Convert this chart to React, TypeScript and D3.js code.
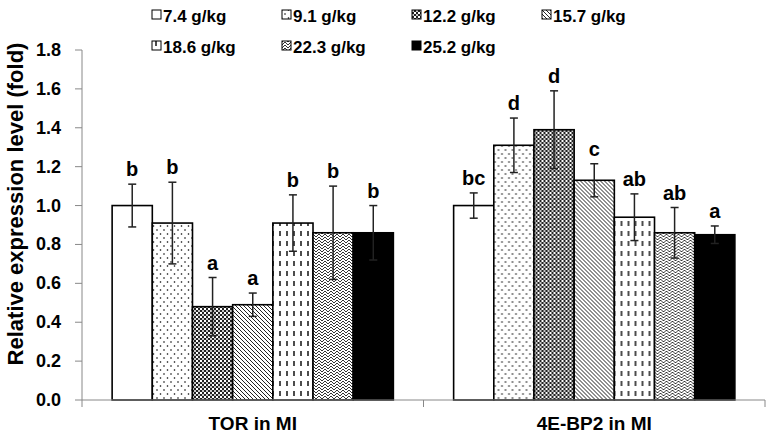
import React from 'react';
import * as d3 from 'd3';

const groups = ['TOR in MI', '4E-BP2 in MI'];
const series = ['7.4 g/kg', '9.1 g/kg', '12.2 g/kg', '15.7 g/kg', '18.6 g/kg', '22.3 g/kg', '25.2 g/kg'];
const torMeans = [1.0, 0.91, 0.48, 0.49, 0.91, 0.86, 0.86];
const torErrors = [0.11, 0.21, 0.15, 0.06, 0.145, 0.24, 0.14];
const torLetters = ['b', 'b', 'a', 'a', 'b', 'b', 'b'];
const bp2Means = [1.0, 1.31, 1.39, 1.13, 0.94, 0.86, 0.85];
const bp2Errors = [0.065, 0.14, 0.2, 0.085, 0.12, 0.13, 0.045];
const bp2Letters = ['bc', 'd', 'd', 'c', 'ab', 'ab', 'a'];
const yTicks = [0, 0.2, 0.4, 0.6, 0.8, 1.0, 1.2, 1.4, 1.6, 1.8];

const fills = ['#fff', 'url(#p-dots)', 'url(#p-check)', 'url(#p-diag)', 'url(#p-dash)', 'url(#p-zig)', '#000'];
const font = '"Liberation Sans", Arial, sans-serif';

const width = 773;
const height = 439;
const margin = { top: 50, right: 8, bottom: 39, left: 82 };

export default function App() {
  const means = [torMeans, bp2Means];
  const errors = [torErrors, bp2Errors];
  const letters = [torLetters, bp2Letters];

  const x0 = d3.scaleBand().domain(groups).range([margin.left, width - margin.right]).paddingInner(0).paddingOuter(0);
  const x1 = d3.scaleBand().domain(series).range([0, x0.bandwidth()]).paddingOuter(0.75).paddingInner(0);
  const y = d3.scaleLinear().domain([0, 1.8]).range([height - margin.bottom, margin.top]);
  const y0 = y(0);

  return (
    <svg width={width} height={height} style={{ position: 'absolute', left: 0, top: 0, background: '#fff' }} fontFamily={font}>
      <defs>
        <pattern id="p-dots" width="7" height="8" patternUnits="userSpaceOnUse">
          <rect width="7" height="8" fill="#fff" />
          <circle cx="1.5" cy="2" r="0.8" fill="#000" />
          <circle cx="5" cy="6" r="0.8" fill="#000" />
        </pattern>
        <pattern id="p-check" width="4" height="4" patternUnits="userSpaceOnUse">
          <rect width="4" height="4" fill="#fff" />
          <rect x="0" y="0" width="2" height="2" fill="#222" />
          <rect x="2" y="2" width="2" height="2" fill="#222" />
          <circle cx="1" cy="3" r="0.7" fill="#666" />
        </pattern>
        <pattern id="p-diag" width="4" height="4" patternUnits="userSpaceOnUse">
          <rect width="4" height="4" fill="#fff" />
          <path d="M-1,-1 L5,5 M-1,3 L1,5 M3,-1 L5,1" stroke="#222" strokeWidth="1" />
        </pattern>
        <pattern id="p-dash" width="7" height="10" patternUnits="userSpaceOnUse">
          <rect width="7" height="10" fill="#fff" />
          <line x1="2" y1="1" x2="2" y2="6" stroke="#000" strokeWidth="1.4" />
        </pattern>
        <pattern id="p-zig" width="6" height="6" patternUnits="userSpaceOnUse">
          <rect width="6" height="6" fill="#fff" />
          <path d="M0,3 L3,0 L6,3 M0,6 L3,3 L6,6" stroke="#333" strokeWidth="1" fill="none" />
        </pattern>
      </defs>

      {/* legend */}
      {series.map((s, i) => {
        const col = i < 4 ? i : i - 4;
        const row = i < 4 ? 0 : 1;
        const lx = 152 + col * 130;
        const ly = 22 + row * 31;
        return (
          <g key={s}>
            <rect x={lx} y={ly - 12} width={9} height={9} fill={fills[i]} stroke="#000" strokeWidth={1} />
            <text x={lx + 11} y={ly} fontSize={17} fontWeight="bold">{s}</text>
          </g>
        );
      })}

      {/* y axis */}
      <line x1={margin.left} x2={margin.left} y1={y(1.8)} y2={y0} stroke="#888" strokeWidth={1} />
      {yTicks.map(t => (
        <g key={t}>
          <line x1={margin.left - 7} x2={margin.left} y1={y(t)} y2={y(t)} stroke="#888" />
          <text x={margin.left - 21} y={y(t) + 6} textAnchor="end" fontSize={18} fontWeight="bold">{t.toFixed(1)}</text>
        </g>
      ))}
      <text transform={`translate(23,204) rotate(-90)`} textAnchor="middle" fontSize={22} fontWeight="bold">
        Relative expression level (fold)
      </text>

      {/* bars */}
      {groups.map((g, gi) => (
        <g key={g} transform={`translate(${x0(g)},0)`}>
          {series.map((s, si) => {
            const v = means[gi][si];
            const e = errors[gi][si];
            const bx = x1(s)!;
            const cx = bx + x1.bandwidth() / 2;
            return (
              <g key={s}>
                <rect x={bx} y={y(v)} width={x1.bandwidth()} height={y0 - y(v)} fill={fills[si]} stroke="#000" strokeWidth={1.6} />
                <line x1={cx} x2={cx} y1={y(v + e)} y2={y(v - e)} stroke="#222" strokeWidth={1.5} />
                <line x1={cx - 4} x2={cx + 4} y1={y(v + e)} y2={y(v + e)} stroke="#222" strokeWidth={1.5} />
                <line x1={cx - 4} x2={cx + 4} y1={y(v - e)} y2={y(v - e)} stroke="#222" strokeWidth={1.5} />
                <text x={cx} y={y(v + e) - 8} textAnchor="middle" fontSize={20} fontWeight="bold">{letters[gi][si]}</text>
              </g>
            );
          })}
        </g>
      ))}

      {/* x axis */}
      <line x1={margin.left} x2={width - margin.right} y1={y0} y2={y0} stroke="#888" strokeWidth={1} />
      {[margin.left, x0(groups[1])!, width - margin.right].map((tx, i) => (
        <line key={i} x1={tx} x2={tx} y1={y0} y2={y0 + 7} stroke="#888" />
      ))}
      {groups.map(g => (
        <text key={g} x={x0(g)! + x0.bandwidth() / 2} y={y0 + 30} textAnchor="middle" fontSize={19} fontWeight="bold">{g}</text>
      ))}
    </svg>
  );
}
